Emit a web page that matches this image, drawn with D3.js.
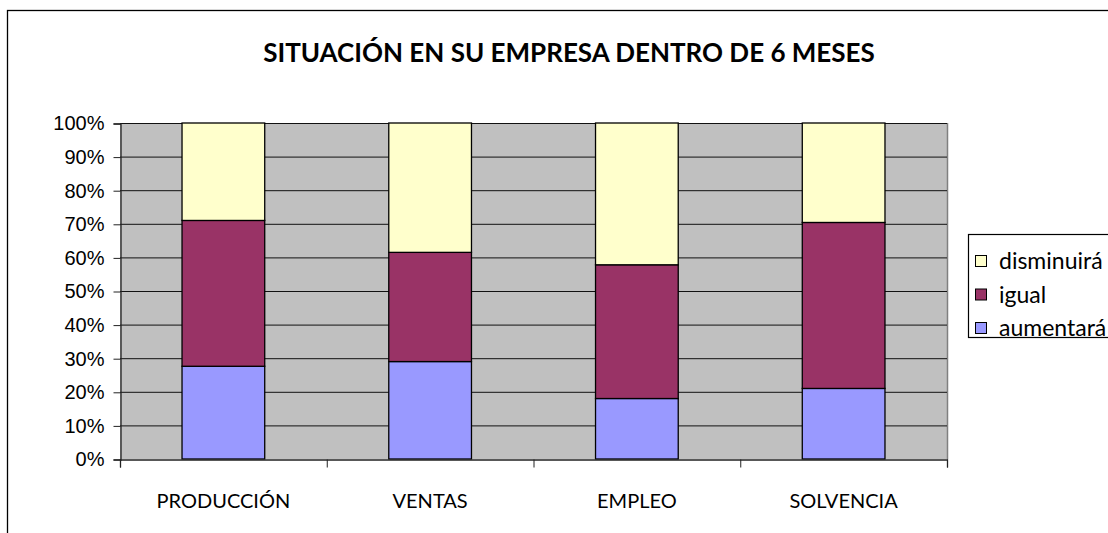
<html>
<script src="https://cdnjs.cloudflare.com/ajax/libs/d3/7.8.5/d3.min.js"></script>
<style>
body { margin: 0; background: #fff; }
.ytick text { font-family: "Liberation Sans", Arial, sans-serif; font-size: 20px; fill: #000; }
.lbl { font-family: Lato, sans-serif; fill: #000; }
</style>
<body>
<svg width=1108 height=533></svg>
<script>
var categories = ["PRODUCCIÓN", "VENTAS", "EMPLEO", "SOLVENCIA"];
var seriesNames = ["aumentará", "igual", "disminuirá"];
var aumentara = [27.6, 29.0, 18.0, 21.0];
var igual = [43.4, 32.5, 39.8, 49.4];
var disminuira = [29.0, 38.5, 42.2, 29.6];
var yTicks = [0, 10, 20, 30, 40, 50, 60, 70, 80, 90, 100];
var colors = ["#9999FF", "#993366", "#FFFFCC"];
var title = "SITUACIÓN EN SU EMPRESA DENTRO DE 6 MESES";

var svg = d3.select("svg");
var plotLeft = 120, plotRight = 947, plotTop = 123, plotBottom = 459;

// chart border (runs past window edges like the original)
svg.append("rect").attr("x", 7.5).attr("y", 10.5).attr("width", 1200).attr("height", 600)
   .attr("fill", "#fff").attr("stroke", "#000").attr("stroke-width", 1.3);

svg.append("text").attr("class", "lbl").attr("x", 569).attr("y", 62)
   .attr("text-anchor", "middle").style("font-size", "26px").style("font-weight", "bold")
   .text(title);

var data = categories.map(function(c, i) {
  return {cat: c, "aumentará": aumentara[i], "igual": igual[i], "disminuirá": disminuira[i]};
});

var x = d3.scaleBand().domain(categories).range([plotLeft, plotRight]).paddingInner(0.6).paddingOuter(0.3);
var y = d3.scaleLinear().domain([0, 100]).range([plotBottom, plotTop]);
var color = d3.scaleOrdinal().domain(seriesNames).range(colors);

// plot area
svg.append("rect").attr("x", plotLeft).attr("y", plotTop)
   .attr("width", plotRight - plotLeft).attr("height", plotBottom - plotTop)
   .attr("fill", "#C0C0C0");
svg.append("line").attr("x1", plotRight + 0.5).attr("x2", plotRight + 0.5)
   .attr("y1", plotTop).attr("y2", plotBottom)
   .attr("stroke", "#808080").attr("stroke-width", 1.5);

// gridlines
svg.append("g").attr("transform", "translate(" + plotLeft + ",0.5)")
   .selectAll("line").data(yTicks.slice(1)).enter().append("line")
   .attr("x1", 0).attr("x2", plotRight - plotLeft)
   .attr("y1", function(d) { return y(d); }).attr("y2", function(d) { return y(d); })
   .attr("stroke", "#111").attr("stroke-width", 1);

// y axis
var yAxis = svg.append("g").attr("class", "ytick").attr("transform", "translate(" + (plotLeft + 0.5) + ",0.5)")
   .call(d3.axisLeft(y).tickValues(yTicks).tickFormat(function(d) { return d + "%"; })
        .tickSize(7).tickPadding(9));
yAxis.select(".domain").attr("stroke", "#222").attr("stroke-width", 1.3);
yAxis.selectAll(".tick line").attr("stroke", "#222");

// bars
var stack = d3.stack().keys(seriesNames);
svg.append("g").selectAll("g").data(stack(data)).enter().append("g")
   .attr("fill", function(d) { return color(d.key); })
   .selectAll("rect").data(function(d) { return d; }).enter().append("rect")
   .attr("x", function(d) { return x(d.data.cat); })
   .attr("y", function(d) { return y(d[1]); })
   .attr("width", x.bandwidth())
   .attr("height", function(d) { return y(d[0]) - y(d[1]); })
   .attr("stroke", "#000").attr("stroke-width", 1.3);

// x axis with ticks between categories
var xb = d3.scaleLinear().domain([0, categories.length]).range([plotLeft, plotRight]);
var xAxis = svg.append("g").attr("transform", "translate(0," + (plotBottom + 0.5) + ")")
   .call(d3.axisBottom(xb).tickValues(d3.range(categories.length + 1)).tickFormat("").tickSize(8));
xAxis.select(".domain").attr("stroke", "#222").attr("stroke-width", 1.3);
xAxis.selectAll(".tick line").attr("stroke", "#222");

svg.append("g").selectAll("text").data(categories).enter().append("text")
   .attr("class", "lbl").attr("x", function(d) { return x(d) + x.bandwidth() / 2; }).attr("y", 508)
   .attr("text-anchor", "middle").style("font-size", "20px").text(function(d) { return d; });

// legend
var legend = svg.append("g");
legend.append("rect").attr("x", 968.5).attr("y", 234.5).attr("width", 300).attr("height", 103)
   .attr("fill", "#fff").attr("stroke", "#000").attr("stroke-width", 1.2);
var order = seriesNames.slice().reverse();
var items = legend.selectAll("g.item").data(order).enter().append("g")
   .attr("transform", function(d, i) { return "translate(0," + (261 + i * 33.5) + ")"; });
items.append("rect").attr("x", 975.5).attr("y", -5.5).attr("width", 11).attr("height", 11)
   .attr("fill", function(d) { return color(d); }).attr("stroke", "#000").attr("stroke-width", 1);
items.append("text").attr("class", "lbl").attr("x", 999).attr("y", 8)
   .style("font-size", "23px").text(function(d) { return d; });
</script>
</body>
</html>
